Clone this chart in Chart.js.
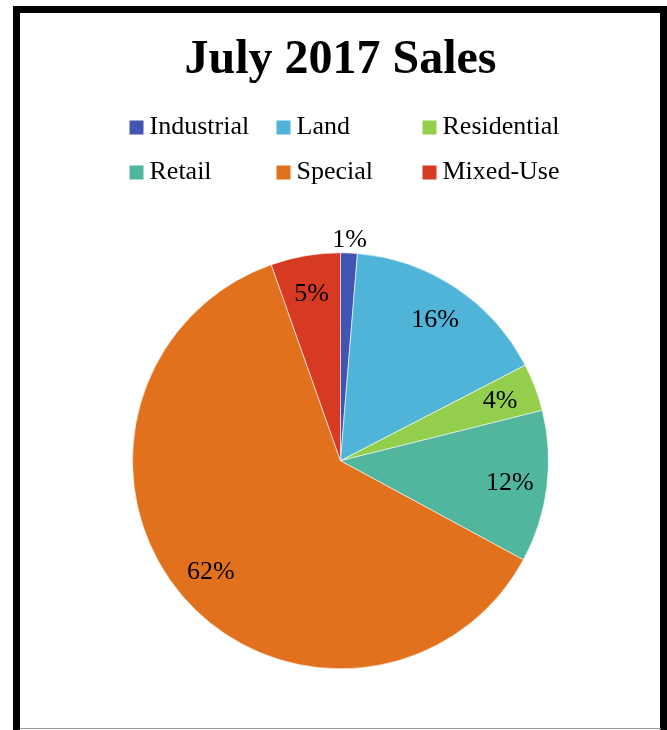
<!DOCTYPE html>
<html>
<head>
<meta charset="utf-8">
<title>July 2017 Sales</title>
<script src="https://cdn.jsdelivr.net/npm/chart.js@4.4.0/dist/chart.umd.min.js"></script>
<style>
  html, body { margin: 0; padding: 0; background: #fff; }
  body { width: 667px; height: 730px; position: relative; overflow: hidden; }
  #salesPie { position: absolute; left: 0; top: 0; }
  .frame {
    position: absolute; left: 13px; top: 6px; width: 640px; height: 730px;
    border: 7px solid #000; border-bottom: none; pointer-events: none;
  }
  .frameBottom {
    position: absolute; left: 20px; top: 728px; width: 641px; height: 1px;
    background: #9a9a9a; pointer-events: none;
  }
</style>
</head>
<body>
<canvas id="salesPie" width="667" height="730"></canvas>
<div class="frame"></div>
<div class="frameBottom"></div>
<script>
const categories = ['Industrial', 'Land', 'Residential', 'Retail', 'Special', 'Mixed-Use'];
const salesShare = [1.3, 16.1, 3.7, 11.8, 61.7, 5.4];
const sliceColors = ['#4355B3', '#4FB4D8', '#93CE4C', '#50B69E', '#E2711E', '#D63A22'];

const SERIF = "'Liberation Serif', 'Times New Roman', serif";

// legend laid out as a 3-column grid, like the original
const gridLegend = {
  id: 'gridLegend',
  afterDraw(chart) {
    const ctx = chart.ctx;
    const cx = (chart.chartArea.left + chart.chartArea.right) / 2;
    const colOffsets = [-211, -64, 82];
    const rowBaselines = [134, 179];
    const box = 14;
    ctx.save();
    ctx.font = '26px ' + SERIF;
    ctx.textBaseline = 'alphabetic';
    ctx.textAlign = 'left';
    chart.data.labels.forEach((label, i) => {
      const x = cx + colOffsets[i % 3];
      const base = rowBaselines[Math.floor(i / 3)];
      ctx.fillStyle = chart.data.datasets[0].backgroundColor[i];
      ctx.fillRect(x, base - 13.5, box, box);
      ctx.fillStyle = '#000';
      ctx.fillText(label, x + 20, base);
    });
    ctx.restore();
  }
};

// percentage labels, small slices go outside
const pctLabels = {
  id: 'pctLabels',
  afterDatasetsDraw(chart) {
    const ctx = chart.ctx;
    const data = chart.data.datasets[0].data;
    const total = data.reduce((a, b) => a + b, 0);
    const meta = chart.getDatasetMeta(0);
    ctx.save();
    ctx.font = '26px ' + SERIF;
    ctx.fillStyle = '#000';
    ctx.textAlign = 'center';
    ctx.textBaseline = 'middle';
    meta.data.forEach((arc, i) => {
      const pct = data[i] / total * 100;
      const mid = (arc.startAngle + arc.endAngle) / 2;
      const r = pct < 2 ? arc.outerRadius + 14 : arc.outerRadius * 0.82;
      const x = arc.x + Math.cos(mid) * r;
      const y = arc.y + Math.sin(mid) * r + 1;
      ctx.fillText(Math.round(pct) + '%', x, y);
    });
    ctx.restore();
  }
};

const ctx = document.getElementById('salesPie').getContext('2d');
const chart = new Chart(ctx, {
  type: 'pie',
  data: {
    labels: categories,
    datasets: [
      {
        data: salesShare,
        backgroundColor: sliceColors,
        borderColor: '#ffffff',
        borderWidth: 0.6,
        radius: 208,
      },
    ],
  },
  options: {
    responsive: false,
    animation: false,
    layout: {
      padding: { left: 14, right: 0, top: 0, bottom: 61 },
    },
    plugins: {
      legend: { display: false },
      tooltip: { enabled: false },
      title: {
        display: true,
        text: 'July 2017 Sales',
        color: '#000',
        font: { family: SERIF, size: 48, weight: 'bold' },
        padding: { top: 32, bottom: 163 },
      },
    },
  },
  plugins: [gridLegend, pctLabels],
});
</script>
</body>
</html>
